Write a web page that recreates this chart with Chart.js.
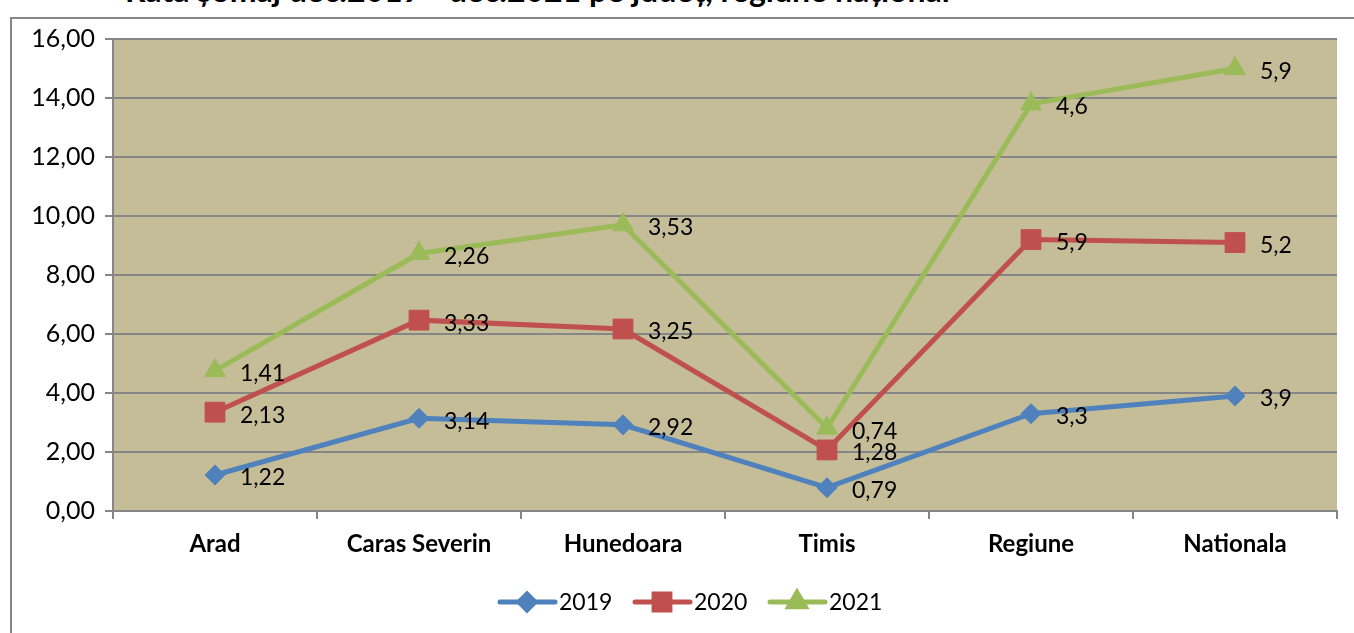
<!DOCTYPE html>
<html lang="ro">
<head>
    <title>Rata somaj</title>
    <script src="https://cdn.jsdelivr.net/npm/chart.js"></script>
    <style>
        body { margin: 0; background: #fff; overflow: hidden; }
        #wrap { position: relative; width: 1354px; height: 633px; overflow: hidden; }
        #frame { position: absolute; left: 10px; top: 17px; width: 1400px; height: 700px;
                 border-left: 2px solid #868686; border-top: 2px solid #868686; }
        #title { position: absolute; left: 125px; top: -30px; font: bold 32px Lato, sans-serif;
                 color: #000; white-space: nowrap; }
        canvas { position: absolute; left: 0; top: 0; }
    </style>
</head>
<body>
<div id="wrap">
    <div id="title">Rata șomaj dec.2019 - dec.2021 pe județ, regiune național</div>
    <div id="frame"></div>
    <canvas id="myChart" width="1354" height="633"></canvas>
</div>
<script>
    const categories = ['Arad', 'Caras Severin', 'Hunedoara', 'Timis', 'Regiune', 'Nationala'];
    const values2019 = [1.22, 3.14, 2.92, 0.79, 3.3, 3.9];
    const values2020 = [2.13, 3.33, 3.25, 1.28, 5.9, 5.2];
    const values2021 = [1.41, 2.26, 3.53, 0.74, 4.6, 5.9];
    const yTicks = [0, 2, 4, 6, 8, 10, 12, 14, 16];

    const FONT = 'Lato, sans-serif';

    // label next to each point, showing the series' own value
    const pointLabels = {
        id: 'pointLabels',
        afterDatasetsDraw(chart) {
            const ctx = chart.ctx;
            ctx.save();
            ctx.font = '23px ' + FONT;
            ctx.fillStyle = '#000';
            ctx.textBaseline = 'middle';
            chart.data.datasets.forEach((ds, i) => {
                chart.getDatasetMeta(i).data.forEach((pt, j) => {
                    const txt = String(ds.data[j]).replace('.', ',');
                    ctx.fillText(txt, pt.x + 25, pt.y + 3);
                });
            });
            ctx.restore();
        }
    };

    // legend with line + marker like the original
    const lineLegend = {
        id: 'lineLegend',
        afterDraw(chart) {
            const ctx = chart.ctx;
            ctx.save();
            ctx.font = '23px ' + FONT;
            ctx.textBaseline = 'middle';
            const y = 602;
            let x = 500;
            chart.data.datasets.forEach(ds => {
                ctx.strokeStyle = ds.borderColor;
                ctx.lineWidth = 5;
                ctx.lineCap = 'round';
                ctx.beginPath();
                ctx.moveTo(x, y);
                ctx.lineTo(x + 55, y);
                ctx.stroke();
                Chart.helpers.drawPoint(ctx, {
                    pointStyle: ds.pointStyle,
                    radius: ds.pointRadius * 0.8,
                    borderWidth: 1
                }, x + 27, y);
                ctx.fillStyle = ds.borderColor;
                ctx.fill();
                ctx.fillStyle = '#000';
                ctx.fillText(ds.label, x + 59, y + 1);
                x += 135;
            });
            ctx.restore();
        }
    };

    function series(label, data, color, style, radius) {
        return {
            label: label,
            data: data,
            borderColor: color,
            backgroundColor: color,
            borderWidth: 5,
            pointStyle: style,
            pointRadius: radius,
            pointHoverRadius: radius,
            pointBorderWidth: 1,
            tension: 0,
            fill: false
        };
    }

    const ctx = document.getElementById('myChart').getContext('2d');
    new Chart(ctx, {
        type: 'line',
        data: {
            labels: categories,
            datasets: [
                series('2019', values2019, '#4F81BD', 'rectRot', 10),
                series('2020', values2020, '#C0504D', 'rect', 14),
                series('2021', values2021, '#9BBB59', 'triangle', 12)
            ]
        },
        options: {
            responsive: false,
            animation: false,
            layout: { padding: { top: 39, right: 17, bottom: 0, left: 0 } },
            plugins: {
                legend: { display: false },
                tooltip: { enabled: false }
            },
            scales: {
                x: {
                    offset: true,
                    grid: { offset: true, drawOnChartArea: false, drawTicks: true, tickLength: 8, color: '#868686', lineWidth: 2 },
                    border: { color: '#868686', width: 2 },
                    ticks: { color: '#000', font: { family: FONT, size: 24, weight: 'bold' }, padding: 11 },
                    afterFit(scale) { scale.height = 122; }
                },
                y: {
                    stacked: true,
                    min: 0,
                    max: 16,
                    afterBuildTicks(scale) { scale.ticks = yTicks.map(v => ({ value: v })); },
                    grid: { color: '#868686', lineWidth: 2, tickLength: 8 },
                    border: { color: '#868686', width: 2 },
                    ticks: {
                        color: '#000',
                        font: { family: FONT, size: 25 },
                        padding: 10,
                        callback: v => v.toFixed(2).replace('.', ',')
                    },
                    afterFit(scale) { scale.width = 113; }
                }
            }
        },
        plugins: [{
            id: 'plotBg',
            beforeDraw(chart) {
                const a = chart.chartArea;
                chart.ctx.save();
                chart.ctx.fillStyle = '#C4BD97';
                chart.ctx.fillRect(a.left, a.top, a.right - a.left, a.bottom - a.top);
                chart.ctx.restore();
            }
        }, pointLabels, lineLegend]
    });
</script>
</body>
</html>
